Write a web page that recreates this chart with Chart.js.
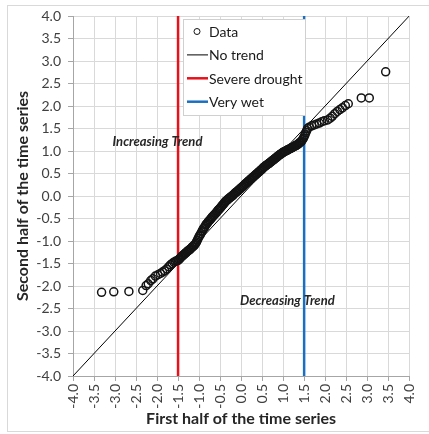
<!DOCTYPE html>
<html>
<head>
<meta charset="utf-8">
<script src="https://cdn.jsdelivr.net/npm/chart.js@4.4.1/dist/chart.umd.min.js"></script>
<style>
  html, body { margin: 0; padding: 0; background: #fff; }
  #wrap { position: relative; width: 429px; height: 434px; }
</style>
</head>
<body>
<div id="wrap"><canvas id="qq" width="429" height="434"></canvas></div>
<script>
// sorted quantiles: first half of the record (x) against second half (y)
const firstHalf = [
  // lower tail
  -3.32, -3.03, -2.67, -2.34, -2.26, -2.21, -2.15, -2.10, -2.04, -1.98,
  -1.92, -1.87, -1.82, -1.77, -1.72, -1.68, -1.64, -1.60, -1.56, -1.53,
  // dense middle
  -1.50, -1.48, -1.46, -1.44, -1.42, -1.40, -1.38, -1.36, -1.34, -1.32,
  -1.30, -1.28, -1.26, -1.24, -1.22, -1.20, -1.18, -1.16, -1.14, -1.12,
  -1.10, -1.08, -1.06, -1.04, -1.02, -1.00, -0.98, -0.96, -0.94, -0.92,
  -0.90, -0.88, -0.86, -0.84, -0.82, -0.80, -0.78, -0.76, -0.74, -0.72,
  -0.70, -0.68, -0.66, -0.64, -0.62, -0.60, -0.58, -0.56, -0.54, -0.52,
  -0.50, -0.48, -0.46, -0.44, -0.42, -0.40, -0.38, -0.36, -0.34, -0.32,
  -0.30, -0.28, -0.26, -0.24, -0.22, -0.20, -0.18, -0.16, -0.14, -0.12,
  -0.10, -0.08, -0.06, -0.04, -0.02, 0.00, 0.02, 0.04, 0.06, 0.08,
  0.10, 0.12, 0.14, 0.16, 0.18, 0.20, 0.22, 0.24, 0.26, 0.28,
  0.30, 0.32, 0.34, 0.36, 0.38, 0.40, 0.42, 0.44, 0.46, 0.48,
  0.50, 0.52, 0.54, 0.56, 0.58, 0.60, 0.62, 0.64, 0.66, 0.68,
  0.70, 0.72, 0.74, 0.76, 0.78, 0.80, 0.82, 0.84, 0.86, 0.88,
  0.90, 0.92, 0.94, 0.96, 0.98, 1.00, 1.02, 1.04, 1.06, 1.08,
  1.10, 1.12, 1.14, 1.16, 1.18, 1.20, 1.22, 1.24, 1.26, 1.28,
  1.30, 1.32, 1.34, 1.36, 1.38, 1.40, 1.42, 1.44, 1.46, 1.48,
  1.50, 1.52, 1.54, 1.56, 1.58,
  // upper tail
  1.62, 1.68, 1.74, 1.80, 1.86, 1.92, 1.98, 2.06, 2.12, 2.17,
  2.23, 2.29, 2.35, 2.41, 2.48, 2.55, 2.86, 3.05, 3.44
];
const secondHalf = [
  -2.14, -2.13, -2.12, -2.10, -1.99, -1.95, -1.88, -1.84, -1.78, -1.75,
  -1.72, -1.69, -1.66, -1.62, -1.57, -1.53, -1.50, -1.47, -1.45, -1.44,
  -1.43, -1.41, -1.39, -1.37, -1.35, -1.33, -1.32, -1.30, -1.28, -1.27,
  -1.25, -1.23, -1.22, -1.20, -1.19, -1.17, -1.15, -1.13, -1.12, -1.10,
  -1.08, -1.05, -1.02, -0.98, -0.94, -0.90, -0.87, -0.84, -0.80, -0.77,
  -0.73, -0.71, -0.68, -0.64, -0.62, -0.60, -0.57, -0.55, -0.53, -0.51,
  -0.48, -0.46, -0.44, -0.42, -0.40, -0.38, -0.36, -0.33, -0.31, -0.29,
  -0.27, -0.25, -0.22, -0.20, -0.18, -0.16, -0.13, -0.11, -0.10, -0.08,
  -0.06, -0.05, -0.03, -0.02, 0.00, 0.01, 0.03, 0.05, 0.07, 0.08,
  0.10, 0.11, 0.13, 0.15, 0.16, 0.18, 0.20, 0.21, 0.23, 0.25,
  0.27, 0.28, 0.30, 0.32, 0.33, 0.35, 0.37, 0.38, 0.40, 0.42,
  0.43, 0.45, 0.47, 0.48, 0.50, 0.52, 0.53, 0.55, 0.57, 0.58,
  0.60, 0.62, 0.64, 0.65, 0.67, 0.68, 0.70, 0.71, 0.72, 0.74,
  0.75, 0.77, 0.78, 0.80, 0.81, 0.83, 0.84, 0.86, 0.87, 0.89,
  0.90, 0.92, 0.93, 0.94, 0.96, 0.97, 0.98, 0.99, 1.00, 1.01,
  1.02, 1.03, 1.04, 1.05, 1.06, 1.07, 1.08, 1.09, 1.10, 1.11,
  1.12, 1.13, 1.14, 1.16, 1.17, 1.19, 1.20, 1.22, 1.25, 1.28,
  1.32, 1.36, 1.41, 1.45, 1.50,
  1.53, 1.56, 1.58, 1.60, 1.62, 1.65, 1.67, 1.69, 1.73, 1.77,
  1.83, 1.88, 1.92, 1.96, 2.01, 2.05, 2.18, 2.18, 2.76
];

// reference lines
const noTrendX = [-4, 4];
const noTrendY = [-4, 4];
const droughtX = [-1.5, -1.5];
const wetX     = [1.5, 1.5];
const guideY   = [-4, 4];

// region labels, anchored in data units
const regionText = ['Increasing Trend', 'Decreasing Trend'];
const regionX    = [-1.99, 1.10];
const regionY    = [1.21, -2.33];

const FONT = "Lato, 'Open Sans', sans-serif";

const toPts = (xs, ys) => xs.map((x, i) => ({ x, y: ys[i] }));

// light frame round the whole figure
const framePlugin = {
  id: 'frame',
  beforeDraw(chart) {
    const c = chart.ctx;
    c.save();
    c.strokeStyle = '#d9d9d9';
    c.lineWidth = 1;
    c.strokeRect(7.5, 5.5, 430, 426);
    c.restore();
  }
};

const regionPlugin = {
  id: 'regions',
  afterDatasetsDraw(chart) {
    const { ctx: c, scales: { x, y } } = chart;
    c.save();
    c.font = "italic bold 13px " + FONT;
    c.fillStyle = '#262626';
    c.textAlign = 'center';
    c.textBaseline = 'middle';
    regionText.forEach((t, i) => {
      c.fillText(t, x.getPixelForValue(regionX[i]), y.getPixelForValue(regionY[i]));
    });
    c.restore();
  }
};

// boxed legend sitting inside the plot
const boxLegend = {
  id: 'boxLegend',
  afterDraw(chart) {
    const c = chart.ctx;
    const left = 183.5, top = 19.5, w = 122, h = 96;
    c.save();
    c.fillStyle = '#fff';
    c.fillRect(left, top, w, h);
    c.strokeStyle = '#d0d0d0';
    c.lineWidth = 1;
    c.strokeRect(left, top, w, h);
    c.font = "14px " + FONT;
    c.textBaseline = 'middle';
    chart.data.datasets.forEach((ds, i) => {
      const cy = top + 12 + i * 23.4;
      c.strokeStyle = ds.borderColor;
      if (ds.showLine) {
        c.lineWidth = ds.borderWidth;
        c.beginPath(); c.moveTo(187, cy); c.lineTo(208, cy); c.stroke();
      } else {
        c.lineWidth = 1;
        c.beginPath(); c.arc(197, cy, 3, 0, Math.PI * 2); c.stroke();
      }
      c.fillStyle = '#1a1a1a';
      c.fillText(ds.label, 209, cy + 1);
    });
    c.restore();
  }
};

const tickFont = { family: FONT, size: 14 };
const titleFont = { family: FONT, size: 16, weight: 'bold' };

new Chart(document.getElementById('qq'), {
  type: 'scatter',
  plugins: [framePlugin, regionPlugin, boxLegend],
  data: {
    datasets: [
      {
        label: 'Data',
        data: toPts(firstHalf, secondHalf),
        pointStyle: 'circle',
        pointRadius: 4,
        borderWidth: 1.5,
        borderColor: '#141414',
        backgroundColor: 'rgba(0,0,0,0)',
        showLine: false
      },
      {
        label: 'No trend',
        data: toPts(noTrendX, noTrendY),
        showLine: true,
        borderColor: '#000000',
        borderWidth: 1,
        pointRadius: 0
      },
      {
        label: 'Severe drought',
        data: toPts(droughtX, guideY),
        showLine: true,
        borderColor: '#e8101a',
        borderWidth: 2.5,
        pointRadius: 0
      },
      {
        label: 'Very wet',
        data: toPts(wetX, guideY),
        showLine: true,
        borderColor: '#1a6fc2',
        borderWidth: 2.5,
        pointRadius: 0
      }
    ]
  },
  options: {
    responsive: false,
    animation: false,
    layout: { padding: { left: 9, right: 14, top: 16, bottom: 2 } },
    plugins: {
      legend: { display: false },
      tooltip: { enabled: false }
    },
    scales: {
      x: {
        type: 'linear',
        min: -4, max: 4,
        afterFit: s => { s.height = 56; },
        ticks: {
          stepSize: 0.5,
          autoSkip: false,
          minRotation: 90, maxRotation: 90,
          padding: 3,
          color: '#404040',
          font: tickFont,
          callback: v => v.toFixed(1)
        },
        grid: { color: '#d9d9d9', lineWidth: 1, tickLength: 5, tickColor: '#a6a6a6' },
        border: { color: '#a6a6a6', width: 1 },
        title: { display: true, text: 'First half of the time series', color: '#262626', font: titleFont, padding: 4 }
      },
      y: {
        type: 'linear',
        min: -4, max: 4,
        afterFit: s => { s.width = 64; },
        ticks: {
          stepSize: 0.5,
          padding: 7,
          color: '#404040',
          font: tickFont,
          callback: v => v.toFixed(1)
        },
        grid: { color: '#d9d9d9', lineWidth: 1, tickLength: 5, tickColor: '#a6a6a6' },
        border: { color: '#a6a6a6', width: 1 },
        title: { display: true, text: 'Second half of the time series', color: '#262626', font: titleFont, padding: 4 }
      }
    }
  }
});
</script>
</body>
</html>
